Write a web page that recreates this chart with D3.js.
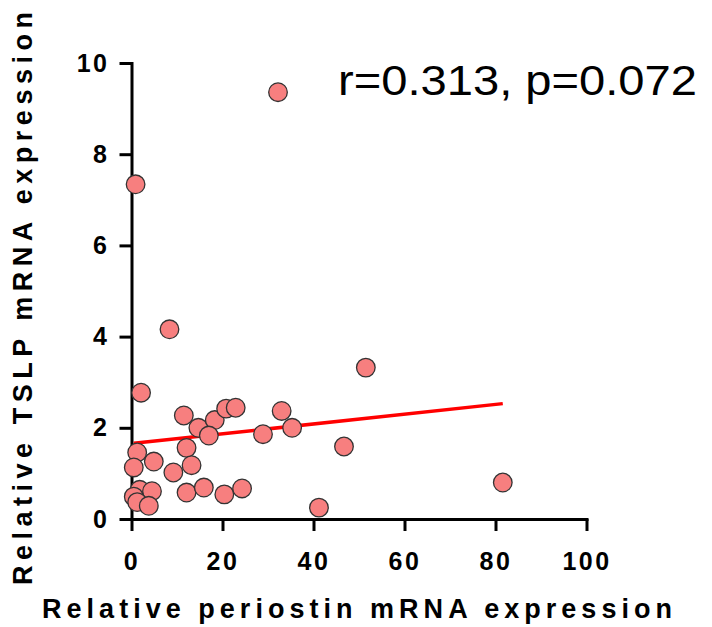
<!DOCTYPE html>
<html>
<head>
<meta charset="utf-8">
<script src="https://cdn.jsdelivr.net/npm/d3@7"></script>
<style>
	body { margin: 0; background: #fff; }
	svg { display: block; font-family: 'Liberation Sans', Arial, sans-serif; }
	.axis path, .axis line { stroke: #000; stroke-width: 3; }
	.axis text { font-size: 25px; font-weight: bold; fill: #000; letter-spacing: 2.5px; }
	.title { font-size: 27px; font-weight: bold; fill: #000; }
</style>
</head>
<body>
<div id="chart"></div>
<script>
// relative periostin vs TSLP mRNA expression, one entry per sample
const periostin = [8.35, 2.1, 11.5, 14.7, 18.3, 20.8, 22.9, 17.0, 28.9, 33.0, 35.3, 46.7, 41.2, 12.1, 13.2, 9.2,
	4.9, 1.25, 0.5, 1.8, 4.5, 0.5, 1.25, 3.8, 12.1, 15.9, 20.4, 24.3, 51.5, 81.6, 32.2, 0.9];
const tslp = [4.16, 2.77, 2.27, 2.0, 2.17, 2.42, 2.44, 1.83, 1.86, 2.37, 2.0, 1.59, 0.25, 1.56, 1.18, 1.02,
	1.26, 1.46, 1.13, 0.64, 0.61, 0.49, 0.37, 0.29, 0.58, 0.69, 0.54, 0.67, 3.32, 0.80, 9.36, 7.34];
// regression line end points
const fitX = [0.5, 81.6];
const fitY = [1.66, 2.53];
const xTicks = [0, 20, 40, 60, 80, 100];
const yTicks = [0, 2, 4, 6, 8, 10];
const statText = 'r=0.313, p=0.072';

const width = 712, height = 627;

const svg = d3.select('#chart')
	.append('svg')
	.attr('width', width)
	.attr('height', height);

const x = d3.scaleLinear().domain([0, 100]).range([131.5, 586.5]);
const y = d3.scaleLinear().domain([0, 10]).range([519, 63]);

const xAxis = d3.axisBottom(x).tickValues(xTicks).tickSize(12).tickSizeOuter(0).tickPadding(21);
const yAxis = d3.axisLeft(y).tickValues(yTicks).tickSize(12).tickSizeOuter(0).tickPadding(10);

svg.append('g')
	.attr('class', 'axis x-axis')
	.attr('transform', 'translate(0,' + y(0) + ')')
	.call(xAxis);

svg.append('g')
	.attr('class', 'axis y-axis')
	.attr('transform', 'translate(' + x(0) + ',0)')
	.call(yAxis);

svg.selectAll('.axis path').attr('stroke-linecap', 'square');

// fitted line sits under the points
const line = d3.line().x(d => x(d[0])).y(d => y(d[1]));
svg.append('path')
	.attr('d', line(fitX.map((v, i) => [v, fitY[i]])))
	.attr('fill', 'none')
	.attr('stroke', '#ff0000')
	.attr('stroke-width', 3.5);

svg.append('g')
	.selectAll('circle')
	.data(periostin.map((v, i) => ({ px: v, ty: tslp[i] })))
	.enter()
	.append('circle')
	.attr('cx', d => x(d.px))
	.attr('cy', d => y(d.ty))
	.attr('r', 9.3)
	.attr('fill', '#f77f7f')
	.attr('stroke', '#333')
	.attr('stroke-width', 1.3);

svg.append('text')
	.attr('x', 338)
	.attr('y', 95)
	.attr('textLength', 359)
	.attr('lengthAdjust', 'spacingAndGlyphs')
	.style('font-size', '42px')
	.style('fill', '#000')
	.text(statText);

svg.append('text')
	.attr('class', 'title')
	.attr('x', 42)
	.attr('y', 618)
	.attr('textLength', 630)
	.attr('lengthAdjust', 'spacing')
	.text('Relative periostin mRNA expression');

svg.append('text')
	.attr('class', 'title')
	.attr('transform', 'translate(32,585) rotate(-90)')
	.attr('textLength', 573)
	.attr('lengthAdjust', 'spacing')
	.text('Relative TSLP mRNA expression');
</script>
</body>
</html>
